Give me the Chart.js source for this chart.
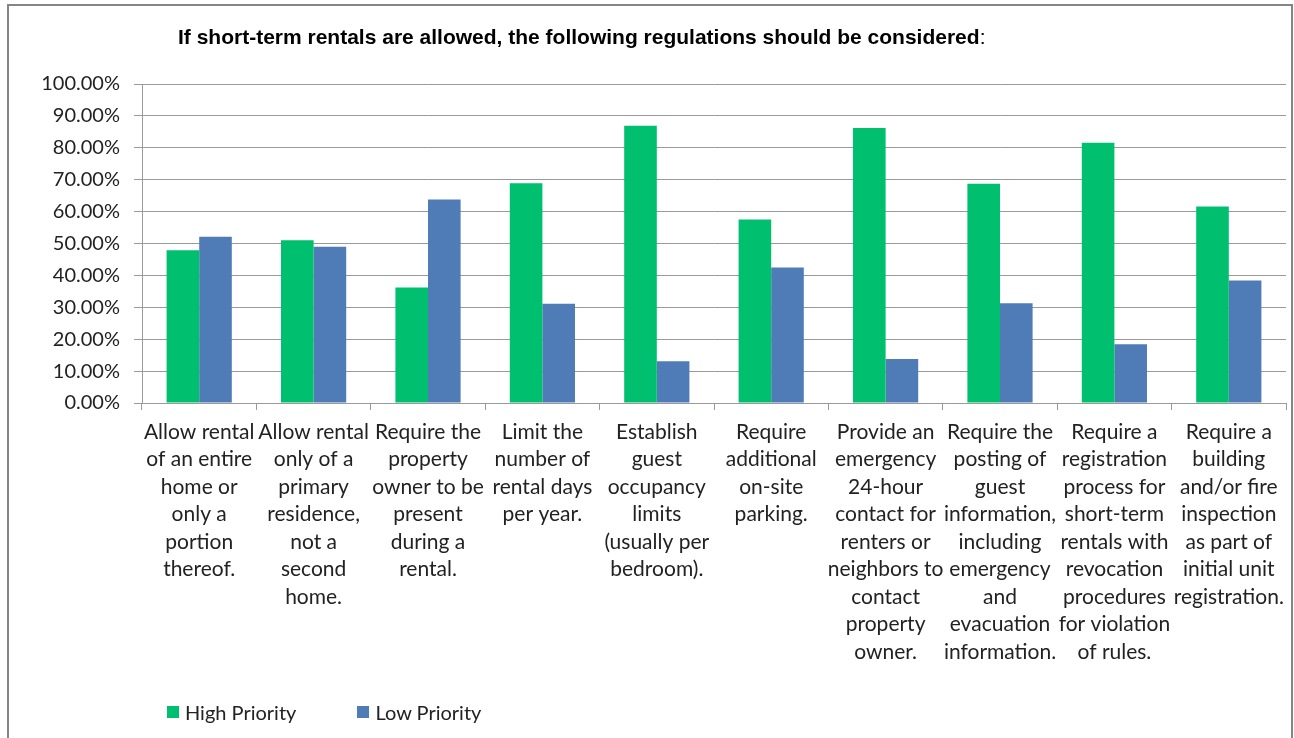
<!DOCTYPE html>
<html>
<head>
<meta charset="utf-8">
<title>Short-term rental regulations</title>
<script src="https://cdn.jsdelivr.net/npm/chart.js@4.4.1/dist/chart.umd.min.js"></script>
<style>
  body { margin: 0; background: #fff; }
  #wrap { position: relative; width: 1294px; height: 738px; overflow: hidden; }
  #frame {
    position: absolute; left: 7px; top: 4px; width: 1286px; height: 800px;
    border: 2px solid #858585; box-sizing: border-box; pointer-events: none;
  }
  #title {
    position: absolute; left: 178px; top: 25px; white-space: nowrap;
    font: bold 21px "Liberation Sans", Arial, sans-serif; color: #000;
  }
  #title span { font-weight: normal; }
  #chart { position: absolute; left: 0; top: 0; }
  #legend {
    position: absolute; left: 167px; top: 700px; display: flex;
    font: 20px Lato, sans-serif; color: #222;
  }
  #legend .item { display: flex; align-items: center; margin-right: 61px; }
  #legend .box { width: 12px; height: 12px; margin-right: 6px; }
</style>
</head>
<body>
<div id="wrap">
  <canvas id="chart" width="1294" height="738"></canvas>
  <div id="title">If short-term rentals are allowed, the following regulations should be considered<span>:</span></div>
  <div id="legend"></div>
  <div id="frame"></div>
</div>
<script>
// category labels, already broken into lines
const categories = [
    ["Allow rental", "of an entire", "home or", "only a", "portion", "thereof."],
    ["Allow rental", "only of a", "primary", "residence,", "not a", "second", "home."],
    ["Require the", "property", "owner to be", "present", "during a", "rental."],
    ["Limit the", "number of", "rental days", "per year."],
    ["Establish", "guest", "occupancy", "limits", "(usually per", "bedroom)."],
    ["Require", "additional", "on-site", "parking."],
    ["Provide an", "emergency", "24-hour", "contact for", "renters or", "neighbors to", "contact", "property", "owner."],
    ["Require the", "posting of", "guest", "information,", "including", "emergency", "and", "evacuation", "information."],
    ["Require a", "registration", "process for", "short-term", "rentals with", "revocation", "procedures", "for violation", "of rules."],
    ["Require a", "building", "and/or fire", "inspection", "as part of", "initial unit", "registration."],
];

// percent of responses
const highPriority = [47.9, 51.0, 36.2, 68.9, 86.9, 57.5, 86.2, 68.7, 81.6, 61.6];
const lowPriority = [52.1, 49.0, 63.8, 31.1, 13.1, 42.5, 13.8, 31.3, 18.4, 38.4];

const yMin = 0;
const yMax = 100;
const yStep = 10;

const green = "#00BF6F";
const blue = "#4F7CB7";
const gridColor = "#9a9a9a";
const textColor = "#222";

const chart = new Chart(document.getElementById("chart").getContext("2d"), {
    type: "bar",
    data: {
        labels: categories,
        datasets: [
            { label: "High Priority", data: highPriority, backgroundColor: green },
            { label: "Low Priority", data: lowPriority, backgroundColor: blue },
        ],
    },
    options: {
        responsive: false,
        animation: false,
        devicePixelRatio: 1,
        categoryPercentage: 0.57,
        barPercentage: 1.0,
        layout: { padding: { top: 84, right: 8, bottom: 0, left: 0 } },
        plugins: {
            legend: { display: false },
            tooltip: { enabled: false },
        },
        scales: {
            x: {
                afterFit: (s) => { s.height = 335; },
                grid: {
                    drawOnChartArea: false,
                    drawTicks: true,
                    tickLength: 7,
                    color: gridColor,
                },
                border: { color: gridColor },
                ticks: {
                    autoSkip: false,
                    maxRotation: 0,
                    minRotation: 0,
                    padding: 8,
                    color: textColor,
                    font: { family: "Lato", size: 21, lineHeight: 1.31 },
                },
            },
            y: {
                min: yMin,
                max: yMax,
                afterFit: (s) => { s.width = 142; },
                grid: { color: gridColor, tickLength: 8 },
                border: { color: gridColor },
                ticks: {
                    stepSize: yStep,
                    padding: 14,
                    color: textColor,
                    font: { family: "Lato", size: 20 },
                    callback: (v) => v.toFixed(2) + "%",
                },
            },
        },
    },
});

// legend built from the datasets
const legend = document.getElementById("legend");
chart.data.datasets.forEach((ds) => {
    const item = document.createElement("div");
    item.className = "item";
    item.innerHTML = `<span class="box" style="background:${ds.backgroundColor}"></span>${ds.label}`;
    legend.appendChild(item);
});
</script>
</body>
</html>
